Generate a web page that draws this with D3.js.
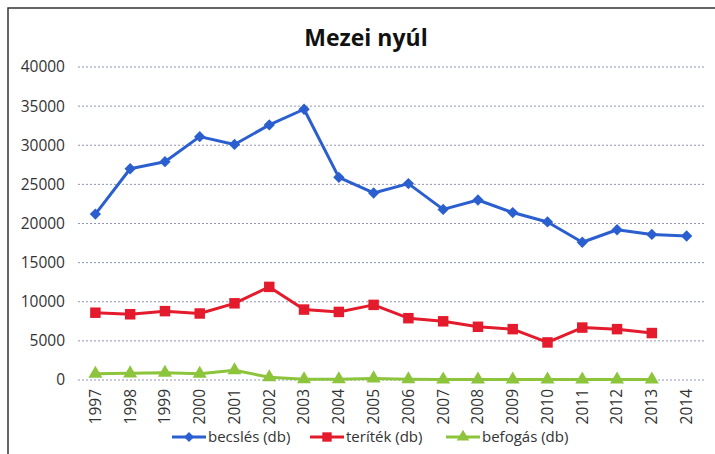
<!DOCTYPE html>
<html>
<head>
<meta charset="utf-8">
<script src="https://cdn.jsdelivr.net/npm/d3@7"></script>
<style>
body { margin: 0; background: #fff; }
svg { font-family: "Open Sans", "Liberation Sans", sans-serif; }
</style>
</head>
<body>
<div id="chart"></div>
<script>
var years = ["1997","1998","1999","2000","2001","2002","2003","2004","2005","2006","2007","2008","2009","2010","2011","2012","2013","2014"];
var becsles = [21200, 27000, 27900, 31100, 30100, 32600, 34600, 25900, 23900, 25100, 21800, 23000, 21400, 20200, 17600, 19200, 18600, 18400];
var teritek = [8600, 8400, 8800, 8500, 9800, 11900, 9000, 8700, 9600, 7900, 7500, 6800, 6500, 4800, 6700, 6500, 6000];
var befogas = [800, 850, 930, 800, 1250, 350, 100, 100, 200, 100, 60, 60, 60, 60, 60, 60, 60];
var yTicks = [0, 5000, 10000, 15000, 20000, 25000, 30000, 35000, 40000];

var width = 715, height = 454;
var margin = {top: 67, right: 11, bottom: 74, left: 78};
var w = width - margin.left - margin.right,
    h = height - margin.top - margin.bottom;

var svg = d3.select("#chart").append("svg")
    .attr("width", width)
    .attr("height", height);

// frame
svg.append("rect")
    .attr("x", 8).attr("y", 8)
    .attr("width", 720).attr("height", 470)
    .attr("fill", "#fff")
    .attr("stroke", "#333")
    .attr("stroke-width", 1.5);

svg.append("text")
    .attr("x", 366).attr("y", 46)
    .attr("text-anchor", "middle")
    .attr("font-size", 23)
    .attr("font-weight", "bold")
    .attr("fill", "#111")
    .text("Mezei nyúl");

var g = svg.append("g")
    .attr("transform", "translate(" + margin.left + "," + margin.top + ")");

var x = d3.scaleBand().domain(years).range([0, w]);
var y = d3.scaleLinear().domain([0, 40000]).range([h, 0]);

// gridlines
g.selectAll(".grid").data(yTicks).enter().append("line")
    .attr("x1", 0).attr("x2", w)
    .attr("y1", function(d) { return y(d); })
    .attr("y2", function(d) { return y(d); })
    .attr("stroke", "#9096b4")
    .attr("stroke-width", 1)
    .attr("stroke-dasharray", "2,2");

// y axis labels
var yAxis = g.append("g")
    .call(d3.axisLeft(y).tickValues(yTicks).tickSize(0).tickPadding(13).tickFormat(d3.format("d")));
yAxis.select(".domain").remove();
yAxis.selectAll("text").attr("font-size", 15.5).attr("fill", "#333")
    .style("font-family", "'Open Sans', sans-serif");

// x axis labels
var xAxis = g.append("g")
    .attr("transform", "translate(0," + h + ")")
    .call(d3.axisBottom(x).tickSize(0));
xAxis.select(".domain").remove();
xAxis.selectAll("text")
    .attr("font-size", 15.5).attr("fill", "#333")
    .style("font-family", "'Open Sans', sans-serif")
    .attr("transform", "rotate(-90)")
    .attr("text-anchor", "end")
    .attr("x", -9).attr("y", 0).attr("dy", "0.35em");

function cx(d, i) { return x(years[i]) + x.bandwidth() / 2; }

var series = [
  {name: "becslés (db)", values: becsles, color: "#2b5fcf", symbol: d3.symbolSquare, size: 64, rot: 45},
  {name: "teríték (db)", values: teritek, color: "#e31b2c", symbol: d3.symbolSquare, size: 110, rot: 0},
  {name: "befogás (db)", values: befogas, color: "#8cc43c", symbol: d3.symbolTriangle, size: 85, rot: 0}
];

var line = d3.line().x(cx).y(function(d) { return y(d); });

series.forEach(function(s) {
  g.append("path")
    .datum(s.values)
    .attr("fill", "none")
    .attr("stroke", s.color)
    .attr("stroke-width", 3)
    .attr("stroke-linejoin", "round")
    .attr("d", line);
  g.selectAll(null).data(s.values).enter().append("path")
    .attr("transform", function(d, i) { return "translate(" + cx(d, i) + "," + y(d) + ") rotate(" + s.rot + ")"; })
    .attr("d", d3.symbol().type(s.symbol).size(s.size))
    .attr("fill", s.color);
});

// legend
var legX = [172, 310, 446];
series.forEach(function(s, i) {
  var lg = svg.append("g").attr("transform", "translate(" + legX[i] + ",437)");
  lg.append("line").attr("x1", 0).attr("x2", 34)
    .attr("stroke", s.color).attr("stroke-width", 3);
  lg.append("path")
    .attr("transform", "translate(17,0) rotate(" + s.rot + ")")
    .attr("d", d3.symbol().type(s.symbol).size(s.size * 0.8))
    .attr("fill", s.color);
  lg.append("text").attr("x", 36).attr("y", 0).attr("dy", "0.35em")
    .attr("font-size", 15).attr("fill", "#333")
    .text(s.name);
});
</script>
</body>
</html>
